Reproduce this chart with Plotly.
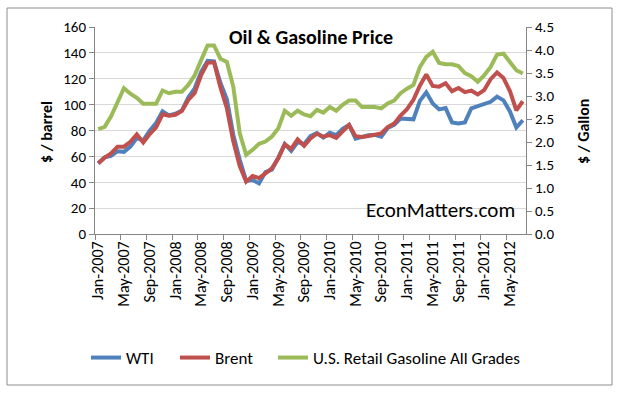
import plotly.graph_objects as go

MONTHS = ["Jan", "Feb", "Mar", "Apr", "May", "Jun", "Jul", "Aug", "Sep", "Oct", "Nov", "Dec"]
YEARS = ["2007", "2008", "2009", "2010", "2011", "2012"]
CATEGORIES = [f"{m}-{y}" for y in YEARS for m in MONTHS][:67]

WTI = [54.5, 59.3, 60.4, 64.0, 63.5, 67.5, 74.1, 72.4, 79.9, 85.8, 94.8, 91.7,
       93.0, 95.4, 105.5, 112.6, 125.4, 133.9, 133.4, 116.7, 104.1, 76.6, 57.3, 41.1,
       41.7, 39.1, 47.9, 49.7, 59.0, 69.6, 64.2, 71.1, 69.4, 75.7, 78.0, 74.5,
       78.3, 76.4, 81.2, 84.3, 73.7, 75.3, 76.3, 76.6, 75.2, 81.9, 84.3, 89.2,
       89.2, 88.6, 102.9, 109.5, 100.9, 96.3, 97.3, 86.3, 85.5, 86.3, 97.2, 98.6,
       100.3, 102.2, 106.2, 103.3, 94.7, 82.3, 87.9]

BRENT = [54.6, 59.0, 62.3, 67.5, 67.5, 71.3, 77.0, 70.8, 77.2, 82.4, 92.5, 91.5,
         92.2, 95.0, 103.6, 109.1, 122.8, 132.3, 132.7, 113.2, 97.2, 71.6, 52.5, 40.4,
         44.9, 43.2, 46.8, 50.8, 58.6, 69.3, 65.8, 73.1, 68.2, 73.9, 77.5, 75.2,
         76.4, 74.3, 79.3, 84.2, 75.6, 75.0, 75.8, 77.0, 77.8, 82.7, 85.3, 91.5,
         96.5, 103.7, 114.6, 123.3, 114.5, 113.9, 116.5, 110.4, 112.8, 109.6, 110.8, 107.9,
         111.2, 119.7, 124.9, 120.5, 110.5, 95.6, 102.6]

GASOLINE = [2.28, 2.33, 2.56, 2.86, 3.17, 3.05, 2.96, 2.83, 2.83, 2.83, 3.12, 3.06,
            3.09, 3.09, 3.24, 3.45, 3.78, 4.10, 4.10, 3.81, 3.74, 3.20, 2.19, 1.72,
            1.83, 1.96, 2.01, 2.12, 2.30, 2.68, 2.57, 2.68, 2.60, 2.56, 2.70, 2.64,
            2.76, 2.68, 2.81, 2.90, 2.90, 2.76, 2.76, 2.76, 2.73, 2.84, 2.90, 3.06,
            3.16, 3.24, 3.63, 3.85, 3.96, 3.72, 3.69, 3.69, 3.65, 3.50, 3.43, 3.31,
            3.45, 3.63, 3.90, 3.92, 3.74, 3.56, 3.49]

TICK_LABELS = ["Jan-2007", "May-2007", "Sep-2007", "Jan-2008", "May-2008", "Sep-2008",
               "Jan-2009", "May-2009", "Sep-2009", "Jan-2010", "May-2010", "Sep-2010",
               "Jan-2011", "May-2011", "Sep-2011", "Jan-2012", "May-2012"]

FONT = "Carlito, Calibri, Lato, sans-serif"
x_idx = list(range(len(CATEGORIES)))
tick_vals = [CATEGORIES.index(t) for t in TICK_LABELS]
minor_vals = [v - 0.5 for v in tick_vals]

L, R, T, B = 95, 526, 27, 234
W, H = 619, 394
pw, ph = R - L, B - T

def px(xp):
    return (xp - L) / pw

def py(yp):
    return (B - yp) / ph

fig = go.Figure()
fig.add_trace(go.Scatter(x=x_idx, y=WTI, name="WTI", mode="lines", legend="legend",
                         line=dict(color="#4F81BD", width=4), hovertext=CATEGORIES))
fig.add_trace(go.Scatter(x=x_idx, y=BRENT, name="Brent", mode="lines", legend="legend2",
                         line=dict(color="#C0504D", width=4), hovertext=CATEGORIES))
fig.add_trace(go.Scatter(x=x_idx, y=GASOLINE, name="U.S. Retail Gasoline All Grades", mode="lines",
                         legend="legend3",
                         line=dict(color="#9BBB59", width=4), yaxis="y2", hovertext=CATEGORIES))

def leg(xp):
    return dict(orientation="h", x=px(xp), y=py(358), xanchor="left", yanchor="middle",
                font=dict(size=17, family=FONT), bgcolor="rgba(0,0,0,0)")

fig.update_layout(
    width=W, height=H,
    margin=dict(l=L, r=W - R, t=T, b=H - B, autoexpand=False),
    paper_bgcolor="white", plot_bgcolor="white",
    font=dict(family=FONT, color="#000000"),
    showlegend=True,
    legend=leg(86), legend2=leg(175), legend3=leg(273),
    xaxis=dict(range=[-0.5, 66.5], tickmode="array", tickvals=tick_vals, ticktext=TICK_LABELS,
               tickangle=-90, tickfont=dict(size=16, family=FONT), ticks="", showgrid=False,
               showline=True, linecolor="#868686", linewidth=1, zeroline=False,
               minor=dict(tickmode="array", tickvals=minor_vals, ticks="outside", ticklen=5,
                          tickcolor="#868686", showgrid=False)),
    yaxis=dict(range=[0, 160], dtick=20, tick0=0, showgrid=True, gridcolor="#d9d9d9",
               showline=True, linecolor="#868686", ticks="outside", ticklen=5, tickcolor="#868686",
               tickfont=dict(size=15, family=FONT), zeroline=False),
    yaxis2=dict(range=[0, 4.5], dtick=0.5, tick0=0, tickformat=".1f", overlaying="y", side="right",
                showgrid=False, showline=True, linecolor="#868686", ticks="outside", ticklen=5,
                tickcolor="#868686", tickfont=dict(size=15, family=FONT), zeroline=False),
    annotations=[
        dict(text="<b>Oil & Gasoline Price</b>", x=px(311), y=py(37), xref="paper", yref="paper",
             xanchor="center", yanchor="middle",
             showarrow=False, font=dict(size=20, family=FONT)),
        dict(text="EconMatters.com", x=px(440), y=py(210), xref="paper", yref="paper",
             xanchor="center", yanchor="middle",
             showarrow=False, font=dict(size=21, family=FONT)),
        dict(text="<b>$ / barrel</b>", x=px(46), y=py(132), xref="paper", yref="paper",
             xanchor="center", yanchor="middle",
             showarrow=False, textangle=-90, font=dict(size=16, family=FONT)),
        dict(text="<b>$ / Gallon</b>", x=px(583), y=py(132), xref="paper", yref="paper",
             xanchor="center", yanchor="middle",
             showarrow=False, textangle=-90, font=dict(size=16, family=FONT)),
    ],
    shapes=[dict(type="rect", xref="paper", yref="paper", x0=px(7), x1=px(612), y0=py(385), y1=py(8),
                 line=dict(color="#8c8c8c", width=1), layer="below")],
)

fig.write_html("out.html", post_script="document.body.style.margin='0px';",
               config={"displayModeBar": False})
